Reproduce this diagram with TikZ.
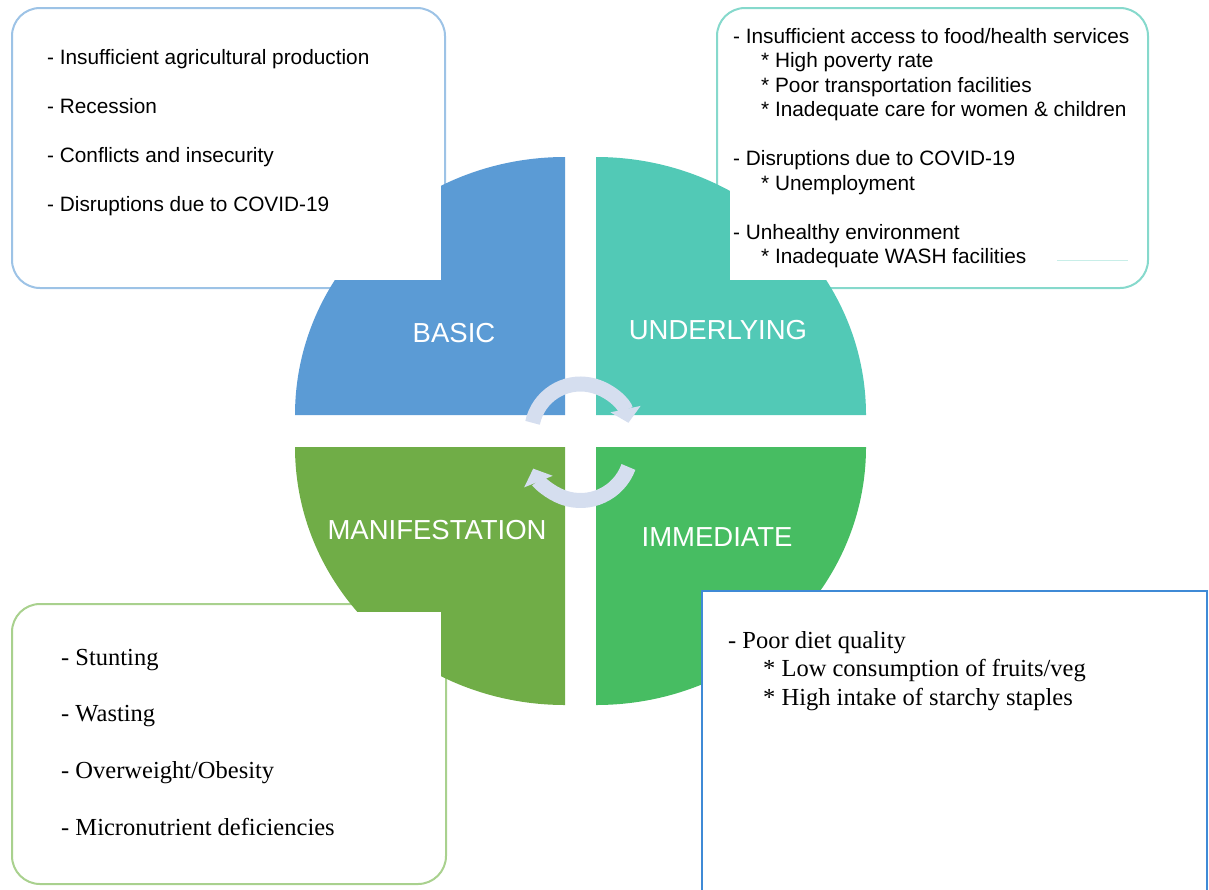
\documentclass[tikz,border=0pt]{standalone}
\usepackage{fontspec}
\setmainfont{Liberation Serif}
\setsansfont{Liberation Sans}
\usetikzlibrary{arrows.meta}

\definecolor{basicblue}{HTML}{5B9BD5}
\definecolor{underteal}{HTML}{52C9B6}
\definecolor{immgreen}{HTML}{47BD62}
\definecolor{manigreen}{HTML}{70AD47}
\definecolor{cyclegray}{HTML}{D5DEEF}
\definecolor{tlline}{HTML}{9DC3E6}
\definecolor{trline}{HTML}{86D9CC}
\definecolor{blline}{HTML}{A9D18E}
\definecolor{brline}{HTML}{3F8AD6}

\tikzset{
  qlabel/.style={text=white, font=\sffamily\fontsize{27.5}{30}\selectfont},
  sanstext/.style={anchor=base west, inner sep=0pt,
                   font=\sffamily\fontsize{20.8}{24.5}\selectfont},
  seriftext/.style={anchor=base west, inner sep=0pt,
                    font=\rmfamily\fontsize{24.5}{28}\selectfont},
  roundbox/.style={fill=white, line width=2pt, rounded corners=28pt},
  cyclearrow/.style={draw=cyclegray, line width=15pt}
}

\begin{document}
\def\qrx{270}
\def\qry{258}

\begin{tikzpicture}[x=1pt, y=-1pt,
                    >={Triangle[width=30pt,length=14pt]}
                   ]
        \useasboundingbox (0,0) rectangle (1209,889);

        \pgfmathsetmacro{\cx}{580.5}
        \pgfmathsetmacro{\ra}{49}
        \pgfmathsetmacro{\rb}{51}

        % frames behind the quarters
        \draw [roundbox, draw=tlline] (12,8) rectangle (445,288);
        \draw [roundbox, draw=trline] (717,8) rectangle (1148,288);
        \draw [roundbox, draw=blline] (12,604) rectangle (446,884);

        \foreach \qx/\qy/\a/\col in {565/415/180/basicblue, 596/415/270/underteal,
                                     596/447/0/immgreen, 565/447/90/manigreen}{
            \fill [\col] (\qx,\qy) -- ++({\qrx*cos(\a)},{\qry*sin(\a)})
                arc [start angle=\a, delta angle=90, x radius=\qrx, y radius=\qry]
                -- cycle;
        }

        % white text areas cut out of the quarters
        \fill [white] (300,150) rectangle (441,280);
        \fill [white] (730,150) rectangle (880,280);
        \fill [white] (300,612) rectangle (441,720);
        \draw [brline, line width=2pt, fill=white] (702,591) rectangle (1207,895);
        \draw [trline!45, line width=0.8pt] (1057,260) -- (1128,260);

        \draw [cyclearrow, ->] ([shift={(192:\ra)}]\cx,433)
            arc [start angle=192, end angle=348, radius=\ra];
        \draw [cyclearrow, ->] ([shift={(20:\rb)}]\cx,449.5)
            arc [start angle=20, end angle=158, radius=\rb];

        \node [qlabel] (basic) at (454,333) {BASIC};
        \node [qlabel] (underlying) at (718,330) {UNDERLYING};
        \node [qlabel] (manifestation) at (437,530) {MANIFESTATION};
        \node [qlabel] (immediate) at (717,537) {IMMEDIATE};

        \foreach \txt [count=\i] in {Insufficient agricultural production, Recession,
                                     Conflicts and insecurity, Disruptions due to COVID-19}
            \node [sanstext] (basic-\i) at (47,15+49*\i) {- \txt};

        \foreach \ind/\row/\txt [count=\i] in {
              0/0/{- Insufficient access to food/health services},
              28/1/{* High poverty rate},
              28/2/{* Poor transportation facilities},
              28/3/{* Inadequate care for women \& children},
              0/5/{- Disruptions due to COVID-19},
              28/6/{* Unemployment},
              0/8/{- Unhealthy environment},
              28/9/{* Inadequate WASH facilities}}
            \node [sanstext] (under-\i) at (733+\ind,43+24.5*\row) {\txt};

        \foreach \txt [count=\i] in {Stunting, Wasting, {Overweight/Obesity},
                                     Micronutrient deficiencies}
            \node [seriftext] (mani-\i) at (61,608.3+56.7*\i) {- \txt};

        \foreach \ind/\txt [count=\i] in {0/{- Poor diet quality},
              35/{* Low consumption of fruits/veg},
              35/{* High intake of starchy staples}}
            \node [seriftext] (immed-\i) at (728+\ind,619.2+28.8*\i) {\txt};
    \end{tikzpicture}
\end{document}
